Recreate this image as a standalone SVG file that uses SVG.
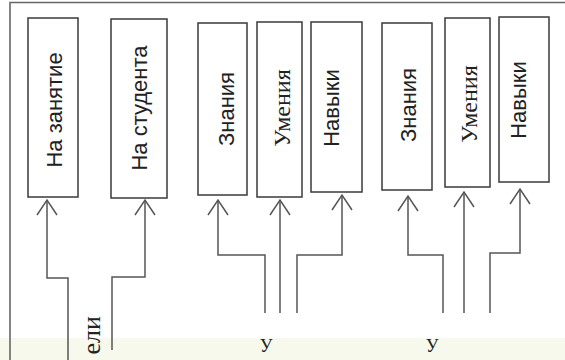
<svg xmlns="http://www.w3.org/2000/svg" width="565" height="360" viewBox="0 0 565 360">
<defs>
<style>
.box{fill:#fff;stroke:#3a3a3a;stroke-width:1.5}
.lbl{font-family:"Liberation Sans",Arial,sans-serif;font-size:22px;fill:#222;text-anchor:middle;dominant-baseline:central}
.ser{font-family:"Liberation Serif","Times New Roman",serif;font-size:24px}
.con{fill:none;stroke:#555;stroke-width:1.5}
.frame{fill:none;stroke:#666;stroke-width:1.6}
.frag{font-family:"Liberation Serif","Times New Roman",serif;font-size:18px;fill:#222;text-anchor:middle}
</style>
<marker id="ah" markerUnits="userSpaceOnUse" markerWidth="24" markerHeight="24" refX="22" refY="12" orient="auto" viewBox="0 0 24 24">
<path d="M7,2 L22,12 L7,22" fill="none" stroke="#555" stroke-width="1.5"/>
</marker>
</defs>
<rect x="0" y="0" width="565" height="360" fill="#fff"/>
<rect x="0" y="338" width="565" height="22" fill="#f7f9ec"/>
<path class="frame" d="M10,360 V2.5 H565"/>

<g id="node-na-zanyatie"><rect class="box" x="28" y="18" width="50" height="179"/><text class="lbl" transform="translate(54,110) rotate(-90)">На занятие</text></g>
<g id="node-na-studenta"><rect class="box" x="111" y="19" width="56" height="179"/><text class="lbl" transform="translate(139,108) rotate(-90)">На студента</text></g>
<g id="node-znaniya-1"><rect class="box" x="198" y="23" width="49" height="172"/><text class="lbl" transform="translate(226,109) rotate(-90)">Знания</text></g>
<g id="node-umeniya-1"><rect class="box" x="257" y="22" width="45" height="175"/><text class="lbl ser" transform="translate(282,108) rotate(-90)">Умения</text></g>
<g id="node-navyki-1"><rect class="box" x="311" y="22" width="51" height="170"/><text class="lbl" transform="translate(331,108) rotate(-90)">Навыки</text></g>
<g id="node-znaniya-2"><rect class="box" x="382" y="23" width="50" height="167"/><text class="lbl" transform="translate(408,105) rotate(-90)">Знания</text></g>
<g id="node-umeniya-2"><rect class="box" x="445" y="18" width="45" height="169"/><text class="lbl ser" transform="translate(469,104) rotate(-90)">Умения</text></g>
<g id="node-navyki-2"><rect class="box" x="499" y="17" width="50" height="165"/><text class="lbl" transform="translate(518,100) rotate(-90)">Навыки</text></g>

<g id="connectors">
<path class="con" marker-end="url(#ah)" d="M68,360 V278 H47 V200"/>
<path class="con" marker-end="url(#ah)" d="M112,350 V277 H145 V200"/>
<path class="con" marker-end="url(#ah)" d="M265,313 V255 H218 V200"/>
<path class="con" marker-end="url(#ah)" d="M280,313 V200"/>
<path class="con" marker-end="url(#ah)" d="M297,313 V255 H342 V195"/>
<path class="con" marker-end="url(#ah)" d="M443,313 V255 H408 V196"/>
<path class="con" marker-end="url(#ah)" d="M464,313 V192"/>
<path class="con" marker-end="url(#ah)" d="M490,313 V253 H520 V189"/>
</g>

<text transform="translate(100,316) rotate(-90)" style="font-family:'Liberation Serif','Times New Roman',serif;font-size:26px;fill:#222;text-anchor:end">ели</text>
<text class="frag" x="266" y="352">У</text>
<text class="frag" x="432" y="352">У</text>
</svg>
